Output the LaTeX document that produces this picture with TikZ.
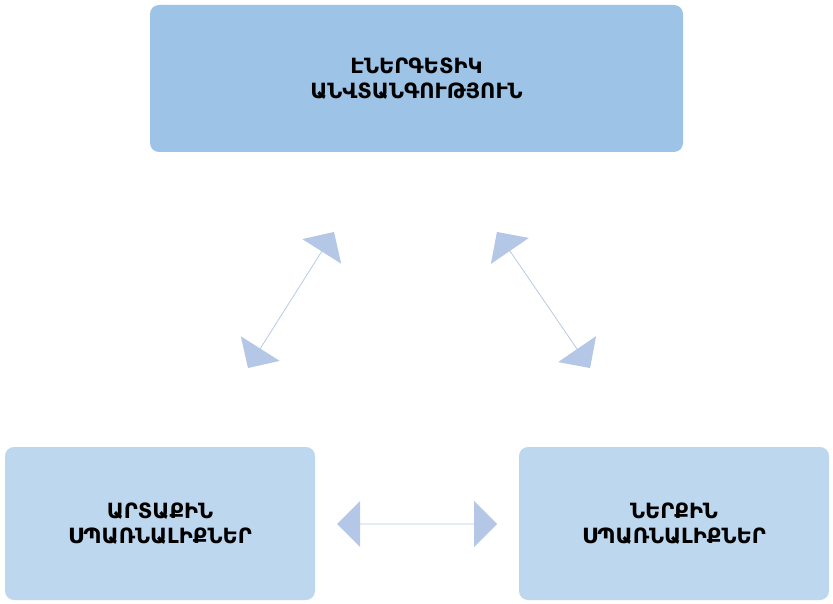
\documentclass[tikz,border=0pt]{standalone}
\usepackage{fontspec}
\newfontfamily\armfont[Script=Armenian]{DejaVu Sans}
\usetikzlibrary{shapes.arrows}
\definecolor{topfill}{HTML}{9DC3E6}
\definecolor{lowfill}{HTML}{BDD7EE}
\definecolor{arrfill}{HTML}{B4C7E7}
\tikzset{
  box/.style={rounded corners=9pt, align=center, inner sep=0pt,
    font=\armfont\bfseries\fontsize{21}{25}\selectfont, text=black},
  link/.style={double arrow, fill=arrfill, draw=none, minimum width=46pt,
    double arrow head extend=12pt, inner sep=0pt, double arrow head indent=0pt}
}
\begin{document}
\begin{tikzpicture}[x=1pt,y=-1pt]
\useasboundingbox (0,0) rectangle (833,604);

% boxes
\node[box, fill=topfill, minimum width=533pt, minimum height=147pt] (energy) at (416.5,78.5) {ԷՆԵՐԳԵՏԻԿ\\ԱՆՎՏԱՆԳՈՒԹՅՈՒՆ};
\node[box, fill=lowfill, minimum width=310pt, minimum height=153pt] (outer) at (160,523.5) {ԱՐՏԱՔԻՆ\\ՍՊԱՌՆԱԼԻՔՆԵՐ};
\node[box, fill=lowfill, minimum width=310pt, minimum height=153pt] (inner) at (674,523.5) {ՆԵՐՔԻՆ\\ՍՊԱՌՆԱԼԻՔՆԵՐ};

% arrows
\node[link, minimum height=161pt, rotate=57.7] (leftlink) at (291,300) {};
\node[link, minimum height=165pt, rotate=-55.6] (rightlink) at (543.5,300) {};
\node[link, minimum height=160pt] (lowlink) at (417,524) {};

\end{tikzpicture}
\end{document}
